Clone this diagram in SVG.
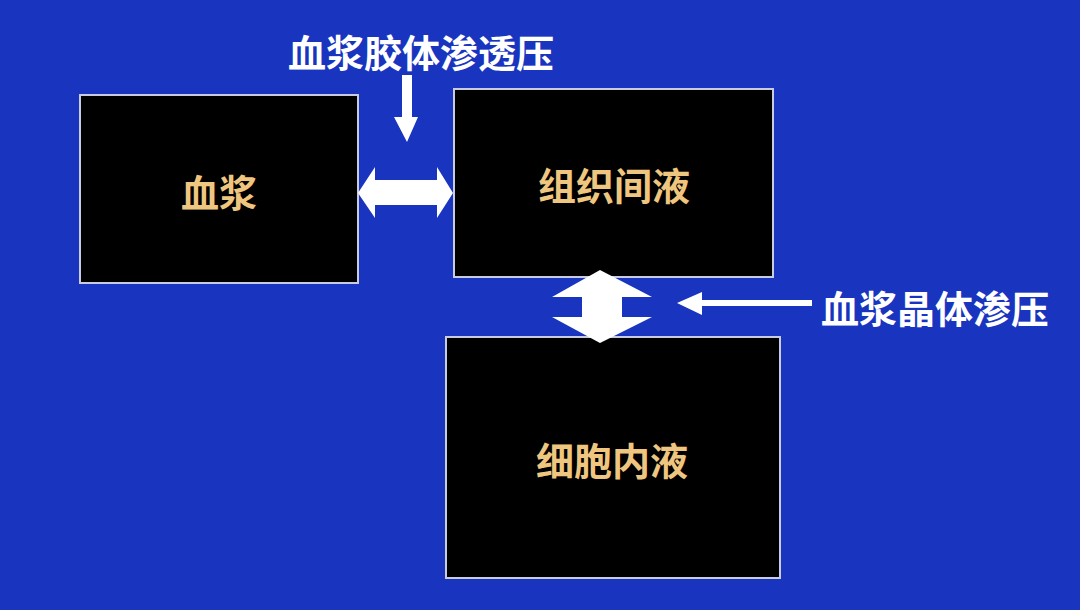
<svg xmlns="http://www.w3.org/2000/svg" width="1080" height="610" viewBox="0 0 1080 610">
<style>
.box{fill:#000;stroke:#c9cbe0;stroke-width:2}
.lbl{font-family:"Noto Sans CJK SC","Noto Sans",sans-serif;font-weight:bold;font-size:38px;fill:#EFC67F;text-anchor:middle;dominant-baseline:central}
.note{font-family:"Noto Sans CJK SC","Noto Sans",sans-serif;font-weight:bold;font-size:38px;fill:#fff;text-anchor:middle;dominant-baseline:central}
.arr{fill:#fff}
</style>
<rect width="1080" height="610" fill="#1934BE"/>
<g id="plasma">
<rect class="box" x="80" y="95" width="278" height="188"/>
<text class="lbl" x="219" y="190">血浆</text>
</g>
<g id="interstitial">
<rect class="box" x="454" y="89" width="319" height="188"/>
<text class="lbl" x="614" y="183">组织间液</text>
</g>
<g id="intracellular">
<rect class="box" x="446" y="337" width="334" height="241"/>
<text class="lbl" x="612" y="458">细胞内液</text>
</g>
<g id="connectors">
<polygon class="arr" points="358,193 375,167 375,180 437,180 437,167 453,193 437,218 437,205 375,205 375,218"/>
<polygon class="arr" points="600,270 652,297 622,297 622,317 652,317 600,343 552,317 582,317 582,297 552,297"/>
<polygon class="arr" points="402,75 412,75 412,117 418,117 407,142 394,117 402,117"/>
<polygon class="arr" points="677,303 702,292 702,300 812,300 812,306 702,306 702,315"/>
</g>
<g id="labels">
<text class="note" x="421" y="50">血浆胶体渗透压</text>
<text class="note" x="935" y="306">血浆晶体渗压</text>
</g>
</svg>
